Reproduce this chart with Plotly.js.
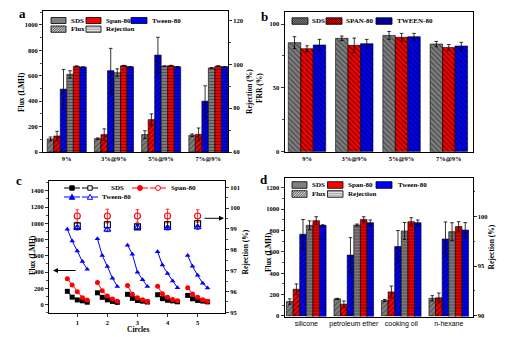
<!DOCTYPE html>
<html><head><meta charset="utf-8">
<script src="https://cdn.plot.ly/plotly-3.0.1.min.js"></script>
<style>html,body{margin:0;padding:0;background:#fff;}#chart{width:510px;height:337px;}</style>
</head><body><div id="chart"></div>
<script>
// ================= DATA =================
const concentrations = ['9%', '3%@9%', '5%@9%', '7%@9%'];
const oils = ['silicone', 'petroleum ether', 'cooking oil', 'n-hexane'];
const surfactantNames = ['SDS', 'Span-80', 'Tween-80'];
const surfactantNamesB = ['SDS', 'SPAN-80', 'TWEEN-80'];

// panel a : flux (LMH) and rejection (%)
const aFluxSDS = [103, 105, 137, 132];
const aFluxSDSErr = [15, 6, 30, 10];
const aFluxSpan = [126, 137, 255, 139];
const aFluxSpanErr = [37, 45, 45, 50];
const aFluxTween = [495, 640, 763, 400];
const aFluxTweenErr = [155, 176, 140, 121];
const aRejSDS = [95.5, 96.2, 99.2, 98.4];
const aRejSDSErr = [1.6, 1.8, 0.15, 0.1];
const aRejSpan = [99.1, 99.4, 99.4, 99.2];
const aRejSpanErr = [0.25, 0.2, 0.2, 0.2];
const aRejTween = [98.8, 98.9, 98.9, 98.9];
const aRejTweenErr = [0.1, 0.1, 0.1, 0.1];

// panel b : FRR (%)
const bFrrSDS = [85.4, 88.8, 91.1, 84.3];
const bFrrSDSErr = [4.7, 1.8, 3.1, 2.1];
const bFrrSpan = [80.7, 83.3, 89.6, 81.7];
const bFrrSpanErr = [2.3, 5.7, 3.1, 2.3];
const bFrrTween = [83.6, 84.6, 90.1, 82.8];
const bFrrTweenErr = [4.4, 3.4, 2.6, 2.9];

// panel c : cyclic flux (LMH) and rejection (%)
const cStageX = [0.67, 0.83, 1.00, 1.17, 1.33, null,
                 1.67, 1.83, 2.00, 2.17, 2.33, null,
                 2.67, 2.83, 3.00, 3.17, 3.33, null,
                 3.67, 3.83, 4.00, 4.17, 4.33, null,
                 4.67, 4.83, 5.00, 5.17, 5.33];
const cFluxSDS = [162, 90, 56, 45, 28, null,
                  144, 88, 57, 38, 26, null,
                  125, 75, 49, 41, 30, null,
                  120, 72, 52, 44, 33, null,
                  112, 70, 50, 42, 32];
const cFluxSpan = [316, 240, 158, 84, 55, null,
                   272, 168, 103, 66, 41, null,
                   234, 127, 82, 57, 37, null,
                   223, 133, 88, 62, 45, null,
                   207, 130, 88, 58, 40];
const cFluxTween = [926, 782, 659, 528, 433, null,
                    809, 604, 468, 324, 222, null,
                    731, 620, 398, 304, 222, null,
                    650, 485, 383, 290, 207, null,
                    603, 470, 360, 260, 202];
const cCircles = [1, 2, 3, 4, 5];
const cRejSDS = [99.15, 99.2, 99.1, 99.2, 99.25];
const cRejSDSErr = [0.15, 0.15, 0.12, 0.15, 0.15];
const cRejSpan = [99.62, 99.62, 99.62, 99.62, 99.62];
const cRejSpanErr = [0.3, 0.33, 0.3, 0.33, 0.3];
const cRejTween = [99.05, 98.97, 99.08, 99.05, 99.08];
const cRejTweenErr = [0.1, 0.1, 0.08, 0.1, 0.1];

// panel d : flux (LMH) and rejection (%) for different oils
const dFluxSDS = [135, 160, 145, 165];
const dFluxSDSErr = [25, 5, 10, 25];
const dFluxSpan = [250, 110, 225, 170];
const dFluxSpanErr = [50, 30, 55, 45];
const dFluxTween = [765, 570, 650, 720];
const dFluxTweenErr = [138, 163, 150, 160];
const dRejSDS = [99.13, 99.16, 98.56, 98.49];
const dRejSDSErr = [0.45, 0.1, 0.85, 0.9];
const dRejSpan = [99.6, 99.73, 99.5, 99.0];
const dRejSpanErr = [0.4, 0.27, 0.4, 0.5];
const dRejTween = [99.13, 99.4, 99.4, 98.65];
const dRejTweenErr = [0.05, 0.27, 0.27, 0.75];

// ================= STYLE =================
const W = 510, H = 337;
const serif = 'Liberation Serif, Times New Roman, serif';
const sans = 'Liberation Sans, Arial, sans-serif';
const GRAY = '#808080', RED = '#ff0000', BLUE = '#0000ff';
const px = x => x / W, py = y => 1 - y / H;

function errs(arr, color) {
  return {type: 'data', array: arr, visible: true, color: color || 'black', thickness: 0.8, width: 1.8};
}
function barTrace(xs, ys, er, color, fg, pat, xa, ya, off, wid, name) {
  return {
    type: 'bar', x: xs, y: ys, name: name, xaxis: xa, yaxis: ya,
    offset: off, width: wid, showlegend: false,
    marker: {color: color, line: {color: 'black', width: 0.6},
             pattern: pat ? {shape: pat.shape, size: pat.size, solidity: pat.solidity, fillmode: 'overlay', fgcolor: fg} : undefined},
    error_y: errs(er)
  };
}
const fluxPat = {shape: '/', size: 3.6, solidity: 0.4};
const rejPat = {shape: '-', size: 3, solidity: 0.4};
const frrPat = {shape: '\\', size: 3.6, solidity: 0.42};

const traces = [];
// ---- panel a ----
const wa = 0.138, oa = -0.41;
traces.push(barTrace(concentrations, aFluxSDS, aFluxSDSErr, GRAY, '#333', fluxPat, 'x', 'y', oa, wa, 'SDS flux'));
traces.push(barTrace(concentrations, aFluxSpan, aFluxSpanErr, RED, '#000', fluxPat, 'x', 'y', oa + wa, wa, 'Span-80 flux'));
traces.push(barTrace(concentrations, aFluxTween, aFluxTweenErr, BLUE, '#000', fluxPat, 'x', 'y', oa + 2 * wa, wa, 'Tween-80 flux'));
traces.push(barTrace(concentrations, aRejSDS, aRejSDSErr, GRAY, '#222', rejPat, 'x', 'y2', oa + 3 * wa, wa, 'SDS rejection'));
traces.push(barTrace(concentrations, aRejSpan, aRejSpanErr, RED, '#000', rejPat, 'x', 'y2', oa + 4 * wa, wa, 'Span-80 rejection'));
traces.push(barTrace(concentrations, aRejTween, aRejTweenErr, BLUE, '#000', rejPat, 'x', 'y2', oa + 5 * wa, wa, 'Tween-80 rejection'));
// ---- panel b ----
const wb = 0.264, ob = -0.396;
traces.push(barTrace(concentrations, bFrrSDS, bFrrSDSErr, GRAY, '#222', frrPat, 'x2', 'y3', ob, wb, 'SDS'));
traces.push(barTrace(concentrations, bFrrSpan, bFrrSpanErr, RED, '#000', frrPat, 'x2', 'y3', ob + wb, wb, 'SPAN-80'));
traces.push(barTrace(concentrations, bFrrTween, bFrrTweenErr, BLUE, '#000', frrPat, 'x2', 'y3', ob + 2 * wb, wb, 'TWEEN-80'));
// ---- panel c ----
function lineTrace(y, color, symbol, name) {
  return {type: 'scatter', mode: 'lines+markers', x: cStageX, y: y, xaxis: 'x3', yaxis: 'y4', name: name,
          showlegend: false, connectgaps: false, line: {color: color, width: 1},
          marker: {color: color, symbol: symbol, size: 5}};
}
traces.push(lineTrace(cFluxSDS, 'black', 'square', 'SDS'));
traces.push(lineTrace(cFluxSpan, RED, 'circle', 'Span-80'));
traces.push(lineTrace(cFluxTween, BLUE, 'triangle-up', 'Tween-80'));
function rejTrace(y, er, color, symbol, name) {
  return {type: 'scatter', mode: 'markers', x: cCircles, y: y, xaxis: 'x3', yaxis: 'y5', name: name,
          showlegend: false, marker: {color: color, symbol: symbol, size: 6, line: {color: color, width: 1.1}},
          error_y: errs(er, color)};
}
traces.push(rejTrace(cRejSpan, cRejSpanErr, RED, 'circle-open', 'Span-80 rejection'));
traces.push(rejTrace(cRejSDS, cRejSDSErr, 'black', 'square-open', 'SDS rejection'));
traces.push(rejTrace(cRejTween, cRejTweenErr, BLUE, 'triangle-up-open', 'Tween-80 rejection'));
// ---- panel d ----
const wd = 0.139, od = -0.417;
traces.push(barTrace(oils, dFluxSDS, dFluxSDSErr, GRAY, '#333', fluxPat, 'x4', 'y6', od, wd, 'SDS flux'));
traces.push(barTrace(oils, dFluxSpan, dFluxSpanErr, RED, '#000', fluxPat, 'x4', 'y6', od + wd, wd, 'Span-80 flux'));
traces.push(barTrace(oils, dFluxTween, dFluxTweenErr, BLUE, '#000', fluxPat, 'x4', 'y6', od + 2 * wd, wd, 'Tween-80 flux'));
traces.push(barTrace(oils, dRejSDS, dRejSDSErr, GRAY, '#222', rejPat, 'x4', 'y7', od + 3 * wd, wd, 'SDS rejection'));
traces.push(barTrace(oils, dRejSpan, dRejSpanErr, RED, '#000', rejPat, 'x4', 'y7', od + 4 * wd, wd, 'Span-80 rejection'));
traces.push(barTrace(oils, dRejTween, dRejTweenErr, BLUE, '#000', rejPat, 'x4', 'y7', od + 5 * wd, wd, 'Tween-80 rejection'));

// ================= AXES =================
const tickFont = {family: serif, size: 6.5, color: 'black', weight: 700};
function yAx(o) {
  return Object.assign({
    showline: true, linecolor: 'black', linewidth: 1, ticks: 'outside', ticklen: 3, tickwidth: 0.8,
    tickcolor: 'black', showgrid: false, zeroline: false, automargin: false, tickfont: tickFont,
    fixedrange: true
  }, o);
}
function xAx(o) {
  return Object.assign({
    showline: true, linecolor: 'black', linewidth: 1, mirror: true, ticks: '', showgrid: false,
    zeroline: false, automargin: false, tickfont: tickFont, fixedrange: true
  }, o);
}
const minorT = d => ({dtick: d, ticks: 'outside', ticklen: 1.8, tickcolor: 'black', tickwidth: 0.7});

const layout = {
  width: W, height: H, margin: {l: 0, r: 0, t: 0, b: 0},
  paper_bgcolor: 'white', plot_bgcolor: 'white', barmode: 'overlay', showlegend: false,
  // panel a
  xaxis: xAx({domain: [px(43), px(228)], anchor: 'y', type: 'category', range: [-0.5, 3.42]}),
  yaxis: yAx({domain: [py(152), py(11)], anchor: 'x', range: [0, 1110], dtick: 200, minor: minorT(100)}),
  yaxis2: yAx({overlaying: 'y', side: 'right', anchor: 'x', range: [60, 124.4], dtick: 20, minor: minorT(10)}),
  // panel b
  xaxis2: xAx({domain: [px(284.5), px(472.7)], anchor: 'y3', type: 'category', range: [-0.476, 3.505]}),
  yaxis3: yAx({domain: [py(151.7), py(12.3)], anchor: 'x2', range: [0, 109.2], dtick: 50, minor: minorT(25), mirror: true}),
  // panel c
  xaxis3: xAx({domain: [px(49), px(225)], anchor: 'y4', range: [0.06, 5.91], tickvals: [1, 2, 3, 4, 5],
               ticks: 'outside', ticklen: 3, tickcolor: 'black', tickwidth: 0.8}),
  yaxis4: yAx({domain: [py(313), py(181)], anchor: 'x3', range: [-105, 1521], dtick: 200, minor: minorT(100)}),
  yaxis5: yAx({overlaying: 'y4', side: 'right', anchor: 'x3', range: [94.97, 101.3], dtick: 1, minor: minorT(0.5)}),
  // panel d
  xaxis4: xAx({domain: [px(284.5), px(472.5)], anchor: 'y6', type: 'category', range: [-0.459, 3.5],
               tickfont: {family: sans, size: 7, color: 'black'}}),
  yaxis6: yAx({domain: [py(316.5), py(177.5)], anchor: 'x4', range: [-5, 1296], dtick: 200, minor: minorT(100)}),
  yaxis7: yAx({overlaying: 'y6', side: 'right', anchor: 'x4', range: [89.92, 103.96], tickvals: [90, 95, 100], minor: minorT(2.5)}),
  shapes: [], annotations: []
};

// ================= DECORATION (legends, titles) =================
const shapes = layout.shapes, annos = layout.annotations;
function rect(x0, y0, x1, y1, fill, lc, lw) {
  shapes.push({type: 'rect', xref: 'paper', yref: 'paper', x0: px(x0), x1: px(x1), y0: py(y1), y1: py(y0),
               fillcolor: fill, line: {color: lc || 'rgba(0,0,0,0)', width: lw === undefined ? 0.8 : lw}, layer: 'above'});
}
function seg(x0, y0, x1, y1, color, w) {
  shapes.push({type: 'line', xref: 'paper', yref: 'paper', x0: px(x0), y0: py(y0), x1: px(x1), y1: py(y1),
               line: {color: color, width: w || 0.8}, layer: 'above'});
}
function hatch(x0, y0, x1, y1, kind, sp, color, w) {
  if (kind === '/') {
    for (let c = x0 + y0 + sp / 2; c < x1 + y1; c += sp) {
      const xa = Math.max(x0, c - y1), xb = Math.min(x1, c - y0);
      if (xb > xa) seg(xa, c - xa, xb, c - xb, color, w);
    }
  } else if (kind === '\\') {
    for (let c = x0 - y1 + sp / 2; c < x1 - y0; c += sp) {
      const xa = Math.max(x0, c + y0), xb = Math.min(x1, c + y1);
      if (xb > xa) seg(xa, xa - c, xb, xb - c, color, w);
    }
  } else {
    for (let y = y0 + sp / 2; y < y1; y += sp) seg(x0, y, x1, y, color, w);
  }
}
function patch(x0, y0, x1, y1, fill, kind, sp, color, w) {
  rect(x0, y0, x1, y1, fill, null, 0);
  if (kind) hatch(x0, y0, x1, y1, kind, sp, color, w);
  rect(x0, y0, x1, y1, 'rgba(0,0,0,0)', 'black', 0.8);
}
function text(x, y, t, size, o) {
  annos.push(Object.assign({xref: 'paper', yref: 'paper', x: px(x), y: py(y), text: t, showarrow: false,
    xanchor: 'left', yanchor: 'middle', font: {family: serif, size: size, color: 'black', weight: 700}}, o || {}));
}
function vtitle(x, y, t) {
  text(x, y, t, 7.5, {xanchor: 'center', yanchor: 'middle', textangle: -90});
}

// legend a
patch(51, 17.5, 66, 23.5, GRAY);            text(68.5, 20.6, surfactantNames[0], 7);
patch(86, 17.5, 101, 23.5, RED);            text(103.5, 20.6, surfactantNames[1], 7);
patch(131, 17.5, 147, 23.5, BLUE);          text(149.5, 20.6, surfactantNames[2], 7);
patch(51, 26, 66, 32.3, 'white', '/', 2.4, '#666', 1.1);  text(68.5, 29.2, 'Flux', 7);
patch(86, 26, 101, 32.3, 'white', '-', 2.1, '#555', 0.7); text(103.5, 29.2, 'Rejection', 7);
// legend b
patch(292, 17.8, 308, 24.3, GRAY, '\\', 2.2, '#222', 0.8); text(310, 21.1, surfactantNamesB[0], 7);
patch(326, 17.8, 342, 24.3, RED, '\\', 2.2, '#000', 0.8);  text(343.5, 21.1, surfactantNamesB[1], 7);
patch(376, 17.8, 392, 24.3, BLUE, '\\', 2.2, '#000', 0.8); text(394.5, 21.1, surfactantNamesB[2], 7);
// legend d
patch(292, 181.7, 307, 188.3, GRAY);         text(310, 185, surfactantNames[0], 7);
patch(327.5, 181.7, 343, 188.3, RED);        text(346, 185, surfactantNames[1], 7);
patch(376, 181.7, 392, 188.3, BLUE);         text(395.5, 185, surfactantNames[2], 7);
patch(292, 190.7, 307, 197.3, 'white', '/', 2.4, '#666', 1.1);  text(310, 194, 'Flux', 7);
patch(327.5, 190.7, 343, 197.3, 'white', '-', 2.1, '#555', 0.7); text(346, 194, 'Rejection', 7);
// legend c
function sq(cx, cy, s, color, filled) { rect(cx - s / 2, cy - s / 2, cx + s / 2, cy + s / 2, filled ? color : 'white', color, 1); }
function circ(cx, cy, r, color, filled) {
  shapes.push({type: 'circle', xref: 'paper', yref: 'paper', x0: px(cx - r), x1: px(cx + r), y0: py(cy + r), y1: py(cy - r),
               fillcolor: filled ? color : 'white', line: {color: color, width: 1}, layer: 'above'});
}
function tri(cx, cy, s, color, filled) {
  const p = `M ${px(cx - s / 2)} ${py(cy + s * 0.42)} L ${px(cx + s / 2)} ${py(cy + s * 0.42)} L ${px(cx)} ${py(cy - s * 0.5)} Z`;
  shapes.push({type: 'path', xref: 'paper', yref: 'paper', path: p, fillcolor: filled ? color : 'white',
               line: {color: color, width: 1}, layer: 'above'});
}
seg(64, 188, 80, 188, 'black', 1); sq(72, 188, 4.4, 'black', true);
seg(82, 188, 98, 188, 'black', 1); sq(90, 188, 4.4, 'black', false);
text(109, 188, 'SDS', 7);
seg(132, 188, 148, 188, RED, 1); circ(140, 188, 2.5, RED, true);
seg(150, 188, 166, 188, RED, 1); circ(158, 188, 2.5, RED, false);
text(168.5, 188, 'Span-80', 7);
seg(64, 197, 80, 197, BLUE, 1); tri(72, 197, 5.4, BLUE, true);
seg(82, 197, 98, 197, BLUE, 1); tri(90, 197, 5.4, BLUE, false);
text(100, 197, 'Tween-80', 7);

// axis titles
vtitle(21, 92, 'Flux (LMH)');
vtitle(249, 92, 'Rejection (%)');
vtitle(259, 88, 'FRR (%)');
vtitle(32, 255, 'Flux (LMH)');
vtitle(245.5, 252, 'Rejection (%)');
vtitle(269, 252, 'Flux (LMH)');
vtitle(490.5, 247, 'Rejection (%)');
text(138, 329, 'Circles', 7.5, {xanchor: 'center'});

// panel letters
text(17, 14, 'a', 13); text(259, 17, 'b', 13); text(14, 180, 'c', 13); text(258, 179, 'd', 13);

// arrows in c
annos.push({xref: 'paper', yref: 'paper', x: px(53), y: py(270.5), ax: 24, ay: 0, text: '', showarrow: true,
            arrowhead: 2, arrowsize: 1, arrowwidth: 1, arrowcolor: 'black'});
annos.push({xref: 'paper', yref: 'paper', x: px(224), y: py(218.3), ax: -21, ay: 0, text: '', showarrow: true,
            arrowhead: 2, arrowsize: 1, arrowwidth: 1, arrowcolor: 'black'});

Plotly.newPlot('chart', traces, layout, {staticPlot: true, displayModeBar: false});
</script>
</body></html>
